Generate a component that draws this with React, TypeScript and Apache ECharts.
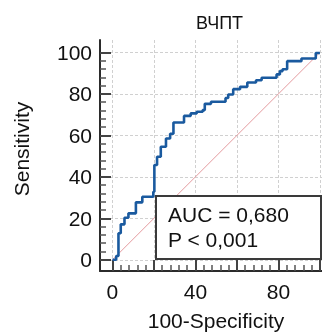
import React, { useEffect, useRef } from "react";
import * as echarts from "echarts";

const chartTitle = "ВЧПТ";
const xName = "100-Specificity";
const yName = "Sensitivity";
const aucText = "AUC = 0,680";
const pText = "P < 0,001";

// ROC curve vertices (100-Specificity, Sensitivity)
const fprValues = [0, 1.8, 2.9, 4.0, 5.8, 7.7, 11.3, 14.4, 19.7, 20.2, 21.5, 23.3, 25.8, 27.8, 29.4, 34.5, 37.7, 40.6, 43.5, 44.5, 47.5, 54.5, 55.8, 58.2, 61.5, 65.0, 69.2, 71.9, 79.1, 80.7, 82.0, 84.2, 91.1, 98.0, 100];
const tprValues = [0, 1.8, 12.8, 17.1, 20.3, 22.4, 27.7, 30.4, 32.8, 45.7, 49.7, 54.5, 58.5, 60.8, 66.2, 69.4, 70.6, 71.4, 72.2, 75.2, 76.2, 78.0, 79.7, 82.3, 83.4, 85.5, 86.6, 87.8, 89.4, 91.0, 91.9, 95.8, 97.1, 99.7, 100];
const diagonal = [[0, 0], [100, 100]];

const majorTicks = [0, 20, 40, 60, 80, 100];
const minorTicks = [4, 8, 12, 16, 24, 28, 32, 36, 44, 48, 52, 56, 64, 68, 72, 76, 84, 88, 92, 96];
const xLabelTicks = [0, 40, 80];
const yLabelTicks = [0, 20, 40, 60, 80, 100];

const FONT = "'Liberation Sans', Arial, sans-serif";

export default function App() {
  const ref = useRef<HTMLDivElement>(null);
  useEffect(() => {
    if (!ref.current) return;
    const chart = echarts.init(ref.current, undefined, { renderer: "svg" });
    const axisColor = "#2b2b2b";
    const mkAxis = (isX: boolean, labels: number[]) => [
      {
        type: "value",
        position: isX ? "bottom" : "left",
        min: isX ? -6 : -5.4,
        max: isX ? 101 : 106,
        axisLine: { show: true, onZero: false, lineStyle: { color: axisColor, width: 2 } },
        axisTick: { show: true, inside: true, length: 11, customValues: majorTicks, lineStyle: { color: "#444", width: 2 } },
        axisLabel: {
          show: true,
          customValues: labels,
          margin: isX ? 10 : 8,
          color: "#111",
          fontSize: 21,
          fontFamily: FONT,
        },
        splitLine: { show: true, lineStyle: { color: "#d0d0d0", width: 1, type: [3, 2] } },
      },
      {
        type: "value",
        position: isX ? "bottom" : "left",
        min: isX ? -6 : -5.4,
        max: isX ? 101 : 106,
        axisLine: { show: false, onZero: false },
        axisTick: { show: true, inside: true, length: 6, customValues: minorTicks, lineStyle: { color: "#555", width: 1.5 } },
        axisLabel: { show: false },
        splitLine: { show: false },
      },
    ];
    const rocData = fprValues.map((x, i) => [x, tprValues[i]]);
    chart.setOption({
      animation: false,
      title: {
        text: chartTitle,
        left: 219.5,
        top: 13.5,
        padding: 0,
        textAlign: "center",
        textStyle: { fontSize: 18, fontWeight: "normal", color: "#111", fontFamily: FONT },
      },
      grid: { left: 100, right: 0, top: 40, bottom: 62, containLabel: false },
      xAxis: mkAxis(true, xLabelTicks),
      yAxis: mkAxis(false, yLabelTicks),
      series: [
        {
          type: "line",
          data: diagonal,
          symbol: "none",
          lineStyle: { color: "#e49a9e", width: 1 },
          z: 2,
          silent: true,
        },
        {
          type: "line",
          data: rocData,
          step: "end",
          symbol: "none",
          lineStyle: { color: "#1a5a9f", width: 2.6 },
          z: 3,
        },
      ],
      graphic: [
        {
          type: "rect",
          z: 100,
          shape: { x: 156, y: 196, width: 165, height: 63 },
          style: { fill: "#fff", stroke: "#3a3a3a", lineWidth: 2 },
        },
        {
          type: "text",
          z: 101,
          x: 168,
          y: 214,
          style: { text: aucText, fontSize: 21, fontFamily: FONT, fill: "#111", textVerticalAlign: "middle" },
        },
        {
          type: "text",
          z: 101,
          x: 168,
          y: 239,
          style: { text: pText, fontSize: 21, fontFamily: FONT, fill: "#111", textVerticalAlign: "middle" },
        },
        {
          type: "text",
          x: 216,
          y: 320.5,
          style: { text: xName, fontSize: 21, fontFamily: FONT, fill: "#111", textAlign: "center", textVerticalAlign: "middle" },
        },
        {
          type: "text",
          x: 21,
          y: 149,
          rotation: Math.PI / 2,
          style: { text: yName, fontSize: 21, fontFamily: FONT, fill: "#111", textAlign: "center", textVerticalAlign: "middle" },
        },
      ],
    });
    return () => chart.dispose();
  }, []);
  return <div ref={ref} style={{ width: 322, height: 333, position: "fixed", left: 0, top: 0 }} />;
}
